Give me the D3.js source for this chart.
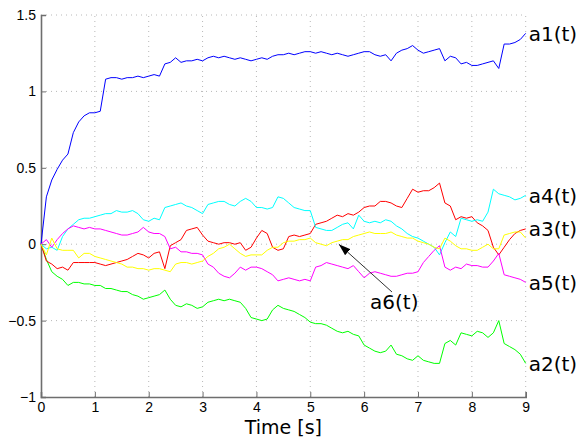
<!DOCTYPE html>
<html>
<head>
  <meta charset="utf-8">
  <title>a(t) traces</title>
  <script src="https://cdn.jsdelivr.net/npm/d3@7"></script>
  <style>
    body { margin: 0; background: #fff; }
  </style>
</head>
<body>
<script>
    // sample times, 0.1 s apart
    var times = d3.range(0, 91).map(function(i) { return i / 10 })

    var xTicks = [0, 1, 2, 3, 4, 5, 6, 7, 8, 9]
    var yTicks = [-1, -0.5, 0, 0.5, 1, 1.5]

    var a1 = [0, 0.31, 0.42, 0.49, 0.55, 0.59, 0.73, 0.80, 0.84, 0.86,
              0.86, 0.87, 1.08, 1.09, 1.09, 1.08, 1.09, 1.09, 1.10, 1.09,
              1.10, 1.11, 1.10, 1.18, 1.19, 1.22, 1.19, 1.20, 1.20, 1.21,
              1.20, 1.22, 1.23, 1.22, 1.23, 1.22, 1.21, 1.22, 1.21, 1.20,
              1.21, 1.22, 1.21, 1.23, 1.24, 1.24, 1.25, 1.24, 1.25, 1.26,
              1.26, 1.25, 1.26, 1.25, 1.24, 1.25, 1.24, 1.23, 1.24, 1.25,
              1.26, 1.26, 1.24, 1.23, 1.24, 1.20, 1.25, 1.27, 1.28, 1.30,
              1.27, 1.25, 1.26, 1.27, 1.28, 1.20, 1.23, 1.22, 1.18, 1.19,
              1.17, 1.17, 1.18, 1.19, 1.20, 1.15, 1.31, 1.31, 1.32, 1.34, 1.38]

    var a2 = [0, -0.10, -0.18, -0.21, -0.23, -0.27, -0.25, -0.25, -0.26, -0.26,
              -0.27, -0.27, -0.29, -0.29, -0.30, -0.31, -0.31, -0.33, -0.34, -0.36,
              -0.35, -0.34, -0.33, -0.30, -0.36, -0.40, -0.41, -0.39, -0.40, -0.42,
              -0.41, -0.38, -0.37, -0.36, -0.37, -0.36, -0.37, -0.38, -0.42, -0.48,
              -0.49, -0.50, -0.49, -0.43, -0.40, -0.42, -0.43, -0.44, -0.46, -0.48,
              -0.51, -0.52, -0.52, -0.53, -0.55, -0.57, -0.58, -0.57, -0.59, -0.60,
              -0.66, -0.68, -0.70, -0.71, -0.70, -0.66, -0.72, -0.73, -0.75, -0.76,
              -0.73, -0.76, -0.77, -0.78, -0.78, -0.65, -0.63, -0.66, -0.58, -0.59,
              -0.60, -0.57, -0.58, -0.61, -0.58, -0.50, -0.65, -0.67, -0.69, -0.72, -0.78]

    var a3 = [0, -0.11, -0.13, -0.16, -0.15, -0.17, -0.12, -0.12, -0.12, -0.12,
              -0.12, -0.13, -0.14, -0.13, -0.12, -0.11, -0.10, -0.08, -0.06, -0.07,
              -0.09, -0.06, -0.05, -0.16, -0.01, 0.01, 0.03, 0.09, 0.10, 0.11,
              0.06, 0.02, 0.01, 0.00, 0.01, 0.01, 0.00, 0.01, -0.04, -0.02,
              0.04, 0.09, 0.07, -0.02, -0.04, -0.03, 0.05, 0.06, 0.05, 0.06,
              0.07, 0.13, 0.14, 0.15, 0.17, 0.19, 0.18, 0.20, 0.19, 0.21,
              0.24, 0.25, 0.25, 0.28, 0.28, 0.27, 0.25, 0.24, 0.30, 0.36,
              0.34, 0.35, 0.35, 0.37, 0.40, 0.27, 0.25, 0.16, 0.18, 0.17,
              0.18, 0.14, 0.12, 0.09, -0.02, -0.07, -0.02, 0.03, 0.07, 0.09, 0.10]

    var a4 = [0, -0.03, -0.02, -0.04, 0.05, 0.10, 0.13, 0.16, 0.17, 0.17,
              0.18, 0.19, 0.20, 0.20, 0.22, 0.21, 0.21, 0.22, 0.20, 0.16,
              0.15, 0.17, 0.16, 0.24, 0.25, 0.26, 0.27, 0.25, 0.24, 0.22,
              0.20, 0.26, 0.27, 0.28, 0.28, 0.26, 0.25, 0.28, 0.30, 0.28,
              0.24, 0.24, 0.23, 0.24, 0.31, 0.30, 0.27, 0.24, 0.23, 0.22,
              0.22, 0.11, 0.10, 0.09, 0.09, 0.11, 0.13, 0.14, 0.10, 0.19,
              0.15, 0.14, 0.15, 0.14, 0.16, 0.15, 0.12, 0.10, 0.07, 0.05,
              0.04, 0.02, 0.00, -0.02, -0.07, 0.01, 0.08, 0.05, 0.17, 0.16,
              0.15, 0.16, 0.15, 0.21, 0.36, 0.33, 0.32, 0.31, 0.29, 0.30, 0.32]

    var a5 = [0, 0.03, -0.02, 0.03, 0.07, 0.10, 0.12, 0.11, 0.10, 0.11,
              0.10, 0.10, 0.09, 0.08, 0.07, 0.06, 0.06, 0.07, 0.08, 0.11,
              0.08, 0.07, 0.07, 0.05, -0.03, -0.02, -0.05, -0.05, -0.06, -0.06,
              -0.07, -0.13, -0.15, -0.19, -0.21, -0.22, -0.19, -0.15, -0.17, -0.15,
              -0.15, -0.16, -0.18, -0.20, -0.24, -0.23, -0.22, -0.23, -0.24, -0.23,
              -0.24, -0.15, -0.14, -0.12, -0.13, -0.14, -0.15, -0.16, -0.14, -0.18,
              -0.22, -0.19, -0.18, -0.19, -0.20, -0.21, -0.21, -0.20, -0.19, -0.19,
              -0.18, -0.12, -0.08, -0.04, -0.01, -0.15, -0.17, -0.15, -0.16, -0.13,
              -0.14, -0.14, -0.15, -0.15, -0.11, -0.06, -0.20, -0.21, -0.22, -0.23, -0.25]

    var a6 = [0, -0.07, 0.04, -0.03, -0.04, -0.04, -0.04, -0.09, -0.06, -0.06,
              -0.08, -0.09, -0.10, -0.11, -0.12, -0.13, -0.15, -0.15, -0.16, -0.16,
              -0.17, -0.16, -0.16, -0.17, -0.18, -0.13, -0.12, -0.12, -0.13, -0.12,
              -0.11, -0.08, -0.06, -0.03, -0.02, 0.00, -0.03, -0.06, -0.08, -0.07,
              -0.07, -0.07, -0.04, -0.02, -0.02, 0.01, 0.02, 0.02, 0.03, 0.03,
              0.04, 0.01, 0.00, -0.01, 0.01, 0.02, 0.03, 0.03, 0.05, 0.06,
              0.07, 0.08, 0.07, 0.07, 0.07, 0.08, 0.06, 0.05, 0.04, 0.04,
              0.02, 0.01, 0.00, -0.02, -0.03, 0.04, 0.02, -0.01, -0.03, -0.03,
              -0.04, -0.04, -0.02, 0.00, -0.03, -0.03, 0.06, 0.07, 0.08, 0.08, 0.04]

    var series = [
        {name: "a1(t)", values: a1, color: "#0000ff", label: true},
        {name: "a2(t)", values: a2, color: "#00ff00", label: true},
        {name: "a3(t)", values: a3, color: "#ff0000", label: true},
        {name: "a4(t)", values: a4, color: "#00ffff", label: true},
        {name: "a5(t)", values: a5, color: "#ff00ff", label: true},
        {name: "a6(t)", values: a6, color: "#ffff00", label: false}
    ]

    var W = 579, H = 438
    var m = {left: 41, right: 525.7, top: 15, bottom: 397}

    var svg = d3.select("body").append("svg")
        .attr("width", W).attr("height", H)

    var x = d3.scaleLinear().domain([0, 9]).range([m.left, m.right])
    var y = d3.scaleLinear().domain([-1, 1.5]).range([m.bottom, m.top])

    // Dotted grid
    var grid = svg.append("g").attr("stroke", "#b8b8b8").attr("stroke-width", 1)
        .attr("stroke-dasharray", "1,4")
    grid.selectAll("line.gx").data(xTicks.slice(1)).enter().append("line")
        .attr("x1", function(d) { return x(d) }).attr("x2", function(d) { return x(d) })
        .attr("y1", m.bottom).attr("y2", m.top)
    grid.selectAll("line.gy").data(yTicks.slice(1)).enter().append("line")
        .attr("x1", m.left).attr("x2", m.right)
        .attr("y1", function(d) { return y(d) }).attr("y2", function(d) { return y(d) })

    // Axes (left + bottom, inward ticks)
    var fmt = function(d) { return d < 0 ? "\u2212" + Math.abs(d) : String(d) }

    var xAxis = svg.append("g").attr("transform", "translate(0," + m.bottom + ")")
        .call(d3.axisBottom(x).tickValues(xTicks).tickSize(-5).tickPadding(5).tickFormat(fmt))
    var yAxis = svg.append("g").attr("transform", "translate(" + m.left + ",0)")
        .call(d3.axisLeft(y).tickValues(yTicks).tickSize(-5).tickPadding(5).tickFormat(fmt))

    ;[xAxis, yAxis].forEach(function(ax) {
        ax.select(".domain").attr("stroke", "#6e6e6e").attr("stroke-width", 1.6)
        ax.selectAll(".tick line").attr("stroke", "#6e6e6e")
        ax.selectAll("text").attr("font-family", "Liberation Sans, Arial, sans-serif")
            .attr("font-size", 14).attr("fill", "#000")
    })

    // Lines
    var line = d3.line()
        .x(function(d, i) { return x(times[i]) })
        .y(function(d) { return y(d) })

    svg.selectAll("path.trace").data(series).enter().append("path")
        .attr("class", "trace")
        .attr("d", function(d) { return line(d.values) })
        .attr("fill", "none")
        .attr("stroke", function(d) { return d.color })
        .attr("stroke-width", 1)

    // End labels
    svg.selectAll("text.lab").data(series.filter(function(d) { return d.label })).enter()
        .append("text")
        .attr("x", m.right + 3)
        .attr("y", function(d) { return y(d.values[d.values.length - 1]) })
        .attr("dy", "0.36em")
        .attr("font-family", "DejaVu Sans, sans-serif").attr("font-size", 20)
        .text(function(d) { return d.name })

    // a6 annotation with arrow
    svg.append("defs").append("marker")
        .attr("id", "head").attr("viewBox", "0 0 12 8")
        .attr("refX", 12).attr("refY", 4)
        .attr("markerWidth", 12).attr("markerHeight", 8)
        .attr("markerUnits", "userSpaceOnUse").attr("orient", "auto")
        .append("path").attr("d", "M0,0 L12,4 L0,8 Z").attr("fill", "#000")

    svg.append("line")
        .attr("x1", 392).attr("y1", 292)
        .attr("x2", x(5.53)).attr("y2", y(0.0))
        .attr("stroke", "#333").attr("stroke-width", 1)
        .attr("marker-end", "url(#head)")

    svg.append("text").attr("x", 370).attr("y", 309)
        .attr("font-family", "DejaVu Sans, sans-serif").attr("font-size", 20)
        .text("a6(t)")

    // x label
    svg.append("text").attr("x", (m.left + m.right) / 2).attr("y", 434)
        .attr("text-anchor", "middle")
        .attr("font-family", "DejaVu Sans, sans-serif").attr("font-size", 19)
        .text("Time [s]")
</script>
</body>
</html>
